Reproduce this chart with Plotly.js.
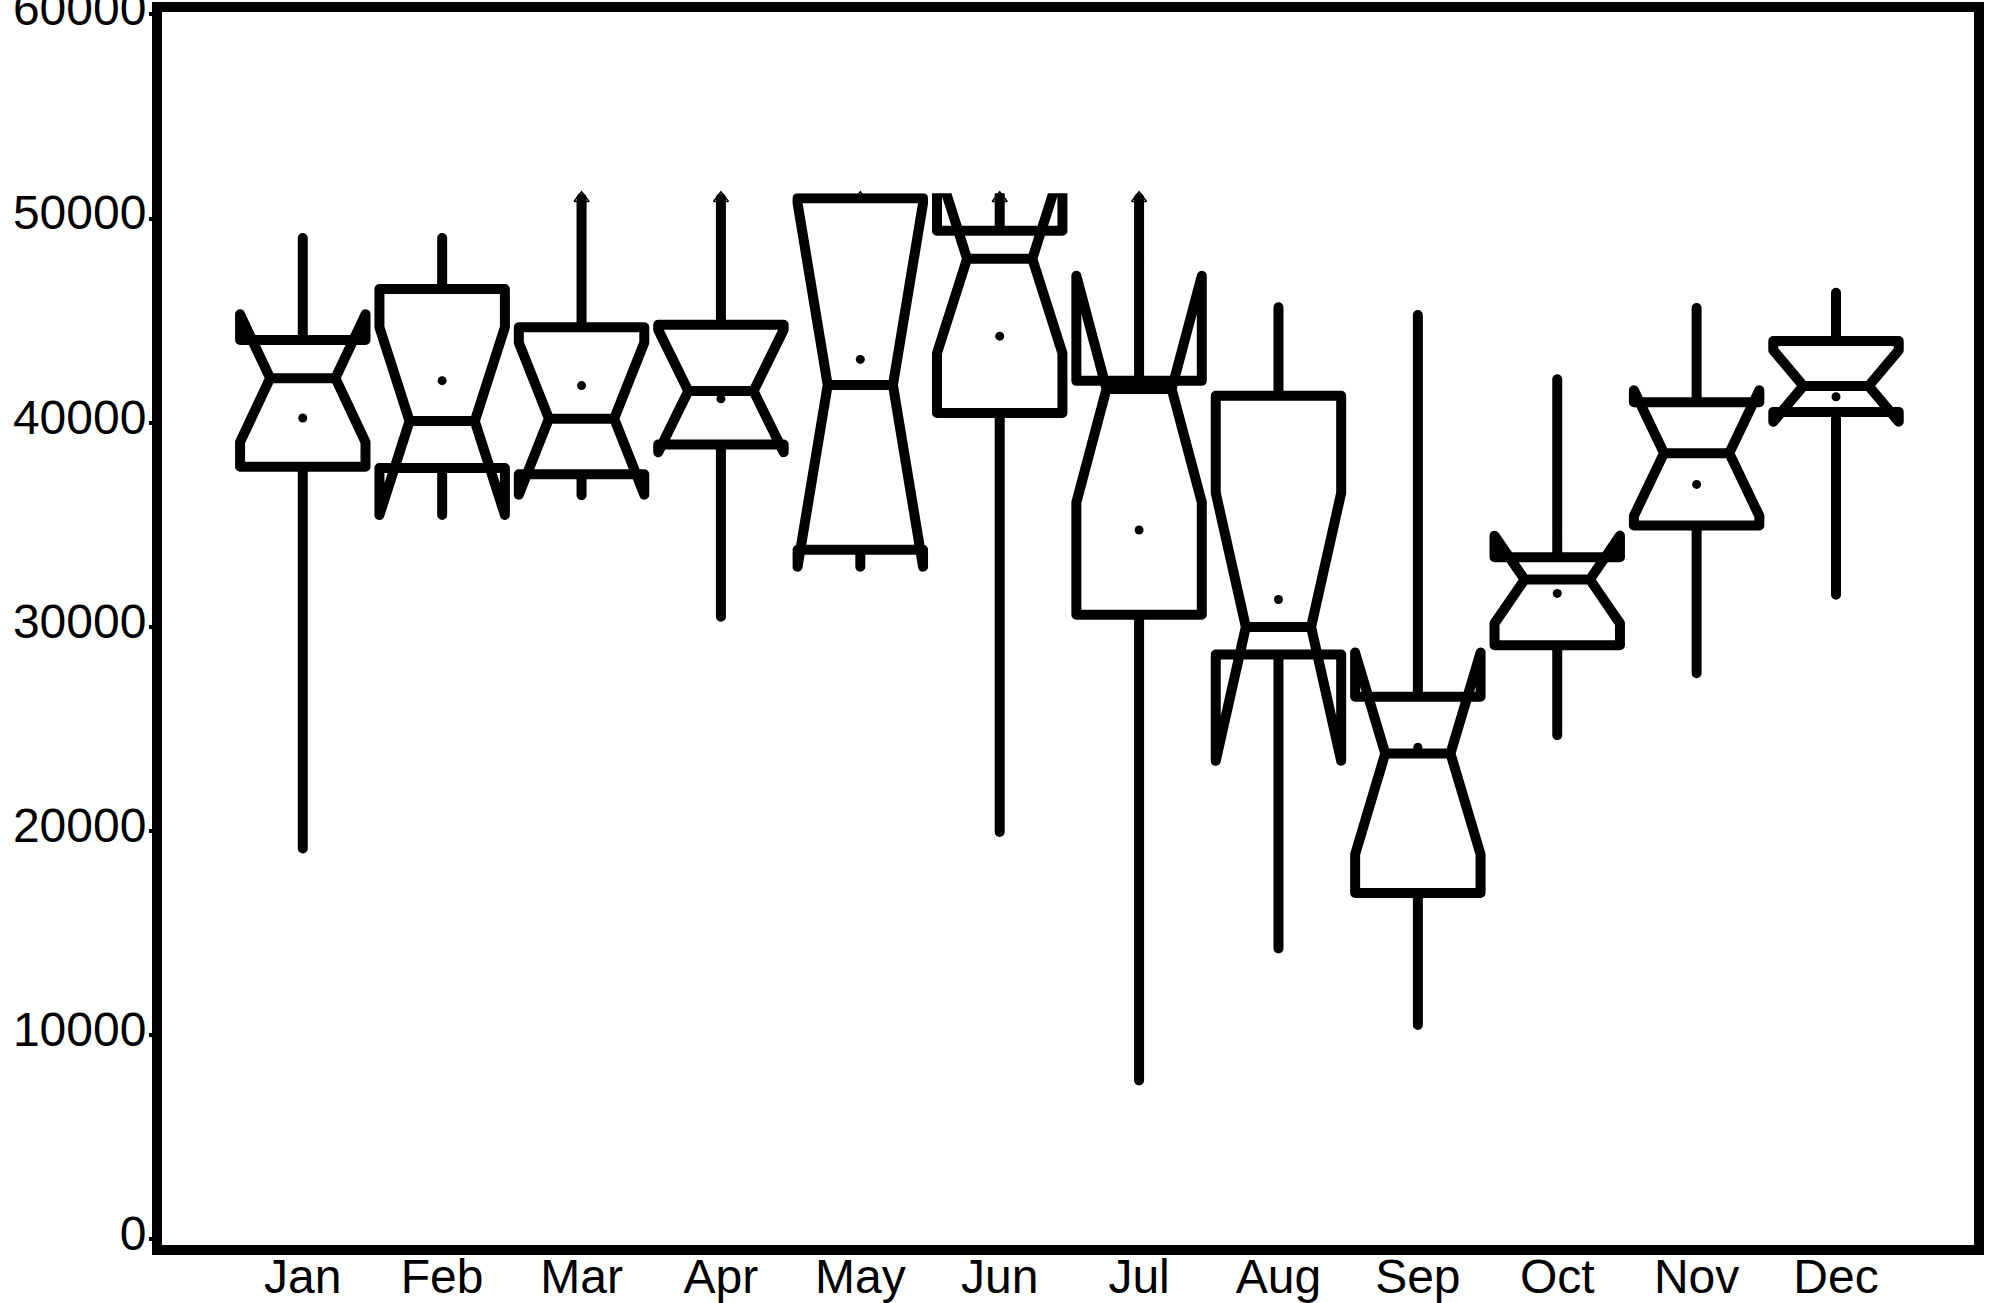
<!DOCTYPE html>
<html><head><meta charset="utf-8">
<script src="https://cdn.plot.ly/plotly-3.0.1.min.js"></script>
<style>
html,body{margin:0;padding:0;background:#fff;overflow:hidden;}
#chart{width:1998px;height:1303px;}
.boxlayer path{stroke-linejoin:round;stroke-linecap:round;}
</style></head><body><div id="chart"></div>
<script>
// ---- data ----
const months     = ['Jan','Feb','Mar','Apr','May','Jun','Jul','Aug','Sep','Oct','Nov','Dec'];
const q1         = [37850, 37780, 37480, 38930, 33780, 40480, 30600, 28650, 16970, 29100, 34970, 40530];
const medians    = [42180, 40080, 40200, 41550, 41850, 48030, 41650, 30000, 23800, 32320, 38510, 41800];
const q3         = [44050, 46550, 44680, 44800, 51000, 49400, 42050, 41320, 26580, 33410, 41000, 44000];
const lowerFence = [19150, 35600, 36450, 30500, 33250, 19950,  7780, 14250, 10500, 24700, 27730, 31570];
const upperFence = [49050, 49050, 51000, 51000, 51000, 51000, 51000, 45650, 45280, 42130, 45620, 46370];
const notchSpan  = [ 3130,  4600,  3725,  3000,  8900,  4630,  5550,  6560,  4940,  2150,  3080,  1750];
const means      = [40230, 42060, 41820, 41170, 43100, 44240, 34745, 31340, 24110, 31640, 36980, 41270];
// values capped at the plotting limit (marked with open triangles)
const cappedMonths = ['Mar','Apr','May','Jun','Jul'];
const cappedValues = [51000, 51000, 51000, 51000, 51000];
const capLimit = 51245;
const yTickVals = [0, 10000, 20000, 30000, 40000, 50000, 60000];
const yTickText = ['0','10000','20000','30000','40000','50000','60000'];
const yRange = [-274, 60117];
const xRange = [-1.01, 11.99];

const font = {family:'"Liberation Sans", Arial, Helvetica, sans-serif', size:48, color:'#000'};

const traces = [
  // invisible anchor trace so the framed main subplot exists
  {
    type:'scatter', mode:'markers', x:months, y:means,
    marker:{opacity:0, size:1}, xaxis:'x', yaxis:'y',
    hoverinfo:'skip', showlegend:false
  },
  {
    type:'box', x:months, q1:q1, median:medians, q3:q3,
    lowerfence:lowerFence, upperfence:upperFence, notchspan:notchSpan,
    notched:true, notchwidth:0.24, width:0.9, whiskerwidth:0,
    boxpoints:false, fillcolor:'#ffffff',
    line:{color:'#000000', width:10},
    xaxis:'x', yaxis:'y2', hoverinfo:'skip', showlegend:false
  },
  {
    type:'scatter', mode:'markers', x:months, y:means,
    marker:{color:'#000000', size:9, symbol:'circle'},
    xaxis:'x', yaxis:'y2', hoverinfo:'skip', showlegend:false
  },
  {
    type:'scatter', mode:'markers', x:cappedMonths, y:cappedValues,
    marker:{symbol:'triangle-up-open', size:13, color:'#000000', line:{width:1.5, color:'#000000'}},
    cliponaxis:false,
    xaxis:'x', yaxis:'y2', hoverinfo:'skip', showlegend:false
  }
];

const d2 = (capLimit - yRange[0]) / (yRange[1] - yRange[0]);

const layout = {
  width:1998, height:1303,
  margin:{l:162, r:24, t:12, b:58, pad:0},
  paper_bgcolor:'#ffffff', plot_bgcolor:'#ffffff',
  showlegend:false,
  font:font,
  xaxis:{
    type:'category', categoryorder:'array', categoryarray:months,
    range:xRange, anchor:'y',
    showline:true, linewidth:10, linecolor:'#000', mirror:true,
    showgrid:false, zeroline:false, ticks:'',
    ticklabelstandoff:-20, ticklabeloverflow:'allow',
    tickfont:font
  },
  yaxis:{
    range:yRange, domain:[0,1], anchor:'x',
    showline:true, linewidth:10, linecolor:'#000', mirror:true,
    showgrid:false, zeroline:false,
    tickmode:'array', tickvals:yTickVals, ticktext:yTickText,
    ticks:'outside', ticklen:3, tickwidth:4, tickcolor:'#000',
    ticklabelshift:-6, ticklabelstandoff:-7, ticklabeloverflow:'allow',
    tickfont:font
  },
  yaxis2:{
    range:[yRange[0], capLimit], domain:[0, d2], anchor:'x',
    visible:false, showgrid:false, zeroline:false
  }
};

Plotly.newPlot('chart', traces, layout, {staticPlot:true, displayModeBar:false});
</script>
</body></html>
